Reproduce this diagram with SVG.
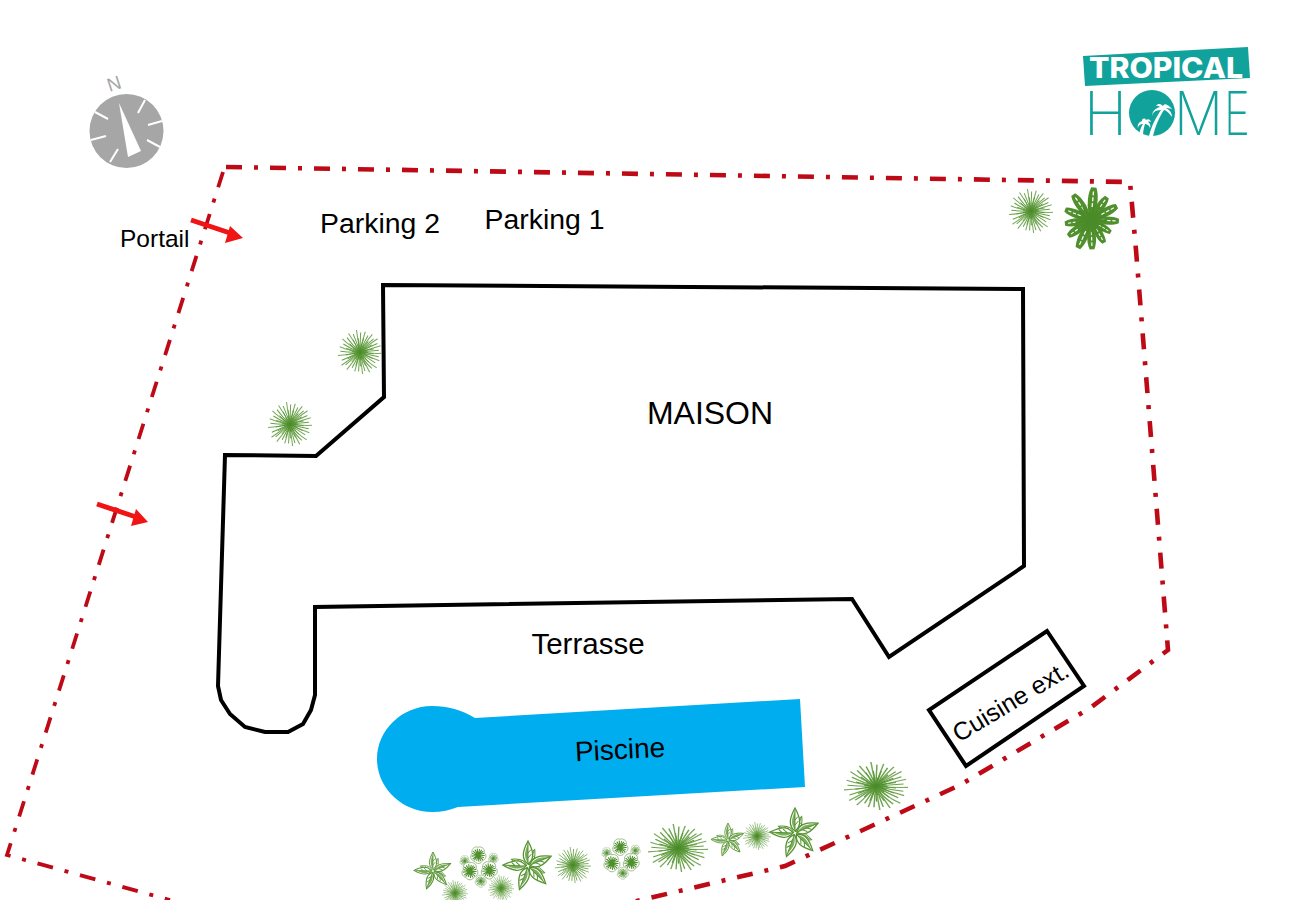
<svg xmlns="http://www.w3.org/2000/svg" width="1300" height="900" viewBox="0 0 1300 900">
<style>
text{font-family:"Liberation Sans",Arial,sans-serif;fill:#000}
.b{fill:none;stroke:#bd0a16;stroke-width:4.6;stroke-dasharray:16 12 4 12}
.w{fill:none;stroke:#000;stroke-width:4;stroke-linejoin:miter}
.a{stroke:#f01414;stroke-width:5;fill:none}
.h{fill:#f01414}
.t{stroke:#fff;stroke-width:2;fill:none}
.hm{font-family:"Inter","Lato",sans-serif;font-weight:200;font-size:60px;fill:#12a29c}
</style>
<defs>
<path id="sp" d="M0 0Q20-6 47-14M0 0Q24 4 50 3M0 0Q20 12 44 20M0 0Q12 20 38 36M0 0Q10 24 22 46M0 0Q2 24 6 50M0 0Q-6 24-12 44M0 0Q-12 18-30 40M0 0Q-18 14-42 30M0 0Q-22 6-50 8M0 0Q-22-2-46-12M0 0Q-18-10-40-30M0 0Q-10-18-26-42M0 0Q-4-22-8-50M0 0Q4-22 12-46M0 0Q10-18 28-40M0 0Q16-14 40-30"/>
<g id="grass" fill="none">
<use href="#sp" stroke="#78ab5a" stroke-width="2.4"/>
<use href="#sp" stroke="#6aa24a" stroke-width="2.6" transform="rotate(11) scale(.88)"/>
<use href="#sp" stroke="#5c9a3a" stroke-width="3" transform="rotate(24) scale(.64)"/>
<use href="#sp" stroke="#4a8a28" stroke-width="4" transform="rotate(40) scale(.36)"/>
</g>
<g id="blade"><path d="M0 0C-8-15-10-36-4-50L4-50C10-36 8-15 0 0Z" fill="#4f8f2c"/><path d="M0-20V-44" stroke="#fff" stroke-width="2" stroke-dasharray="6 3" fill="none"/></g>
<g id="dark">
<use href="#blade" transform="rotate(5) scale(1.05)"/><use href="#blade" transform="rotate(35) scale(.9)"/><use href="#blade" transform="rotate(62) scale(.95)"/><use href="#blade" transform="rotate(92) scale(.9)"/><use href="#blade" transform="rotate(122) scale(.75)"/><use href="#blade" transform="rotate(150) scale(.85)"/><use href="#blade" transform="rotate(178) scale(.95)"/><use href="#blade" transform="rotate(205) scale(1)"/><use href="#blade" transform="rotate(235) scale(.9)"/><use href="#blade" transform="rotate(262) scale(.85)"/><use href="#blade" transform="rotate(292) scale(.9)"/><use href="#blade" transform="rotate(325) scale(1)"/>
<use href="#sp" fill="none" stroke="#4a8a28" stroke-width="6" transform="scale(.5)"/>
</g>
<g id="leaf"><path d="M0-4C-13-14-12-28 0-50C12-28 13-14 0-4Z" fill="#fff" stroke="#55932f" stroke-width="2.6"/><path d="M0-6C-8-16-8-28 0-44Z" fill="#7dad60"/><path d="M0-6V-46M0-16L7-24M0-26L6-33" stroke="#55932f" stroke-width="2" fill="none"/></g>
<g id="star">
<use href="#leaf" transform="rotate(22) scale(.72)"/><use href="#leaf" transform="rotate(112) scale(.72)"/><use href="#leaf" transform="rotate(202) scale(.72)"/><use href="#leaf" transform="rotate(292) scale(.72)"/>
<use href="#leaf"/><use href="#leaf" transform="rotate(67)"/><use href="#leaf" transform="rotate(135)"/><use href="#leaf" transform="rotate(200)"/><use href="#leaf" transform="rotate(272)"/>
</g>
<g id="ros">
<path d="M0-17C8-20 16-12 13-5C20 0 17 10 9 12C7 20-5 20-8 13C-16 12-19 2-13-3C-16-12-8-20 0-17Z" fill="#fff" stroke="#7fa968" stroke-width="1.6"/>
<use href="#sp" fill="none" stroke="#4f8f2c" stroke-width="8" transform="scale(.28)"/>
</g>
<g id="flower">
<use href="#ros" transform="translate(-2,-26) scale(1.1)"/><use href="#ros" transform="translate(-34,-12) scale(.7)"/><use href="#ros" transform="translate(34,-18) scale(.7)"/><use href="#ros" transform="translate(-22,12) scale(1.15)"/><use href="#ros" transform="translate(24,10) scale(1.15)"/><use href="#ros" transform="translate(4,36) scale(.8)"/>
</g>
</defs>

<g id="connectors">
<polyline class="b" points="226,167 1130,182 1136,250 1168,650 1090,708 960,785 785,866 620,905"/>
<polyline class="b" style="stroke-width:3.8" points="223,172 7,855 170,900"/>
</g>

<g id="maison">
<path class="w" d="M383,285L1023,289L1024,566L889,657L852,599L315,607L315,695L311,710L303,724L288,732L265,732L245,727L230,714L221,700L218,686L225,455L316,456L384,397Z"/>
<text x="710" y="424" font-size="32" text-anchor="middle">MAISON</text>
</g>
<g id="terrasse"><text x="588" y="654" font-size="29.500" text-anchor="middle">Terrasse</text></g>
<g id="piscine">
<path fill="#00aeef" d="M475,718C462,710 448,706 432,706C402,706 377,730 377,759C377,788 402,812 432,812C442,812 450,810 458,807L805,787L800,699Z"/>
<text font-size="28" text-anchor="middle" transform="translate(620.500,759) rotate(-3)">Piscine</text>
</g>
<g id="cuisine">
<polygon class="w" points="1047,631 1084,686 966,766 929,710"/>
<text font-size="25" text-anchor="middle" transform="translate(1015,709) rotate(-31)">Cuisine ext.</text>
</g>
<g id="parking2"><text x="380" y="233" font-size="28.400" text-anchor="middle">Parking 2</text></g>
<g id="parking1"><text x="544.500" y="229" font-size="28.400" text-anchor="middle">Parking 1</text></g>
<g id="portail"><text x="120" y="247" font-size="24.500">Portail</text></g>

<g id="arrow-portail">
<line class="a" x1="191" y1="220" x2="230" y2="233"/><polygon class="h" points="243,238 225,243 230,226"/>
</g>
<g id="arrow-2">
<line class="a" x1="97" y1="504" x2="136" y2="517"/><polygon class="h" points="148,522 131,526 136,509"/>
</g>

<g id="boussole">
<circle cx="126.500" cy="131" r="37" fill="#a6a6a6"/>
<polygon points="119,103 128,157 141,151" fill="#fff"/>
<path class="t" d="M145,100L138,113M162,121L148,125M160,147L147,140M118,149L110,162M106,136L91,140M108,119L95,112"/>
<text font-size="19" text-anchor="middle" transform="translate(116,90) rotate(-18)" style="fill:#a6a6a6">N</text>
</g>

<g id="logo">
<polygon points="1083,56 1248,47 1250,78 1085,86" fill="#12a29c"/>
<text x="1089" y="78" font-size="28" textLength="154" lengthAdjust="spacingAndGlyphs" style="fill:#fff;font-family:Inter,'Liberation Sans',sans-serif;font-weight:800">TROPICAL</text>
<text class="hm" x="1084" y="135" textLength="43" lengthAdjust="spacingAndGlyphs">H</text>
<circle cx="1152" cy="113" r="23" fill="#12a29c"/>
<path fill="#fff" d="M1149,136C1152,124 1157,116 1161,110C1155,110 1152,113 1153,116C1151,113 1155,108 1160,107C1158,105 1156,106 1156,106C1158,103 1161,104 1163,106C1165,102 1169,106 1172,109C1169,108 1167,108 1166,108C1170,110 1172,113 1172,117C1169,113 1166,110 1164,110C1160,116 1156,124 1153,136ZM1139,135C1140,130 1141,127 1143,124C1140,124 1138,126 1138,128C1137,125 1139,122 1142,121C1142,118 1145,118 1146,120C1148,118 1151,120 1151,122C1149,121 1148,122 1148,122C1150,123 1151,126 1150,128C1149,125 1147,124 1145,124C1144,127 1143,131 1143,136Z"/>
<text class="hm" x="1174" y="135" textLength="49" lengthAdjust="spacingAndGlyphs">M</text>
<text class="hm" x="1224" y="135" textLength="26" lengthAdjust="spacingAndGlyphs">E</text>
</g>

<g id="plantes">
<use href="#grass" transform="translate(1031,211) scale(.44)"/>
<use href="#dark" transform="translate(1091,220) scale(.62)"/>
<use href="#grass" transform="translate(360,352) scale(.44)"/>
<use href="#grass" transform="translate(290,424) scale(.44)"/>
<use href="#grass" transform="translate(876,786) scale(.64,.48)"/>
<use href="#star" transform="translate(433,871) scale(.38)"/>
<use href="#flower" transform="translate(479,866) scale(.42)"/>
<use href="#star" transform="translate(528,866) scale(.5)"/>
<use href="#grass" transform="translate(573,865) scale(.36)"/>
<use href="#flower" transform="translate(621,858) scale(.42)"/>
<use href="#grass" transform="translate(678,848) scale(.6,.48)"/>
<use href="#star" transform="translate(728,840) scale(.34)"/>
<use href="#grass" transform="translate(757,836) scale(.28)"/>
<use href="#star" transform="translate(795,833) scale(.5)"/>
<use href="#grass" transform="translate(455,893) scale(.26)"/>
<use href="#grass" transform="translate(501,888) scale(.26)"/>
</g>
</svg>
